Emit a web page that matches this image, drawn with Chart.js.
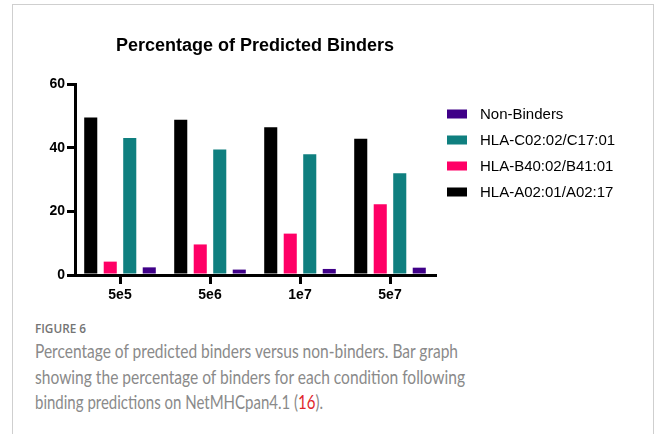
<!DOCTYPE html>
<html>
<head>
<meta charset="utf-8">
<script src="https://cdn.jsdelivr.net/npm/chart.js@4"></script>
<style>
  html, body { margin: 0; padding: 0; background: #fff; }
  body { width: 656px; height: 434px; position: relative; overflow: hidden; font-family: Lato, "Open Sans", sans-serif; }
  #frame { position: absolute; left: 12px; top: 4px; width: 642px; height: 460px; border: 1px solid #cfcfcf; box-sizing: border-box; }
  #wrap { position: absolute; left: 0; top: 0; width: 656px; height: 310px; }
  .cap { position: absolute; left: 35px; white-space: nowrap; transform-origin: 0 0; color: #8a8a8a; }
  #fig { top: 319px; font-size: 13px; font-weight: 600; color: #747474; font-family: "Open Sans", sans-serif; }
  .ln { font-size: 19px; font-weight: 400; }
  #l1 { top: 339px; }
  #l2 { top: 365px; }
  #l3 { top: 390px; }
  .ref { color: #e0262b; }
</style>
</head>
<body>
<div id="frame"></div>
<div id="wrap"><canvas id="c" width="656" height="310"></canvas></div>
<div id="fig" class="cap" data-w="51">FIGURE 6</div>
<div id="l1" class="cap ln" data-w="423">Percentage of predicted binders versus non-binders. Bar graph</div>
<div id="l2" class="cap ln" data-w="430">showing the percentage of binders for each condition following</div>
<div id="l3" class="cap ln" data-w="288">binding predictions on NetMHCpan4.1 (<span class="ref">16</span>).</div>
<script>
const categories = ['5e5', '5e6', '1e7', '5e7'];
const seriesNames = ['HLA-A02:01/A02:17', 'HLA-B40:02/B41:01', 'HLA-C02:02/C17:01', 'Non-Binders'];
const hlaA = [49.5, 48.8, 46.4, 42.8];
const hlaB = [4.2, 9.6, 13.0, 22.2];
const hlaC = [43.0, 39.4, 37.9, 32.0];
const nonBinders = [2.4, 1.7, 1.9, 2.3];
const yTicks = [0, 20, 40, 60];
const colors = ['#000000', '#ff0066', '#0f7f7f', '#3f0088'];

const seriesValues = [hlaA, hlaB, hlaC, nonBinders];

const legendPlugin = {
  id: 'sideLegend',
  afterDraw(chart) {
    const ctx = chart.ctx;
    ctx.save();
    ctx.font = '15px "Liberation Sans", Arial, sans-serif';
    ctx.textBaseline = 'middle';
    const order = chart.data.datasets.map((d, i) => i).reverse();
    order.forEach((di, k) => {
      const ds = chart.data.datasets[di];
      const cy = 114 + k * 26;
      ctx.fillStyle = ds.backgroundColor;
      ctx.fillRect(447, cy - 4.5, 20, 9);
      ctx.fillStyle = '#000';
      ctx.fillText(ds.label, 480, cy + 0.5);
    });
    ctx.restore();
  }
};

new Chart(document.getElementById('c'), {
  type: 'bar',
  data: {
    labels: categories,
    datasets: seriesNames.map((n, i) => ({
      label: n,
      data: seriesValues[i],
      backgroundColor: colors[i],
      borderWidth: 0,
      categoryPercentage: 0.867,
      barPercentage: 0.67
    }))
  },
  options: {
    responsive: false,
    animation: false,
    layout: { padding: { left: 0, right: 221, top: 0, bottom: 0 } },
    plugins: {
      legend: { display: false },
      tooltip: { enabled: false },
      title: {
        display: true,
        text: 'Percentage of Predicted Binders',
        fullSize: false,
        color: '#000',
        font: { family: '"Liberation Sans", Arial, sans-serif', size: 18, weight: 'bold', lineHeight: 1.2 },
        padding: { top: 35, bottom: 27.4 }
      }
    },
    scales: {
      x: {
        grid: { display: true, drawOnChartArea: false, drawTicks: true, offset: false, tickLength: 9, color: '#000', lineWidth: 3 },
        border: { display: true, color: '#000', width: 3 },
        ticks: { color: '#000', padding: 3, font: { family: '"Liberation Sans", Arial, sans-serif', size: 14, weight: 'bold' } },
        afterFit(s) { s.height = 35; }
      },
      y: {
        min: 0, max: 60,
        afterBuildTicks(s) { s.ticks = yTicks.map(v => ({ value: v })); },
        grid: { display: true, drawOnChartArea: false, drawTicks: true, tickLength: 8, color: '#000', lineWidth: 3 },
        border: { display: true, color: '#000', width: 3 },
        ticks: { color: '#000', padding: 2, font: { family: '"Liberation Sans", Arial, sans-serif', size: 14, weight: 'bold' } },
        afterFit(s) { s.width = 75; }
      }
    }
  },
  plugins: [legendPlugin]
});

document.querySelectorAll('.cap').forEach(el => {
  const target = parseFloat(el.dataset.w);
  const w = el.getBoundingClientRect().width;
  if (w > 0) el.style.transform = 'scaleX(' + (target / w) + ')';
});
</script>
</body>
</html>
